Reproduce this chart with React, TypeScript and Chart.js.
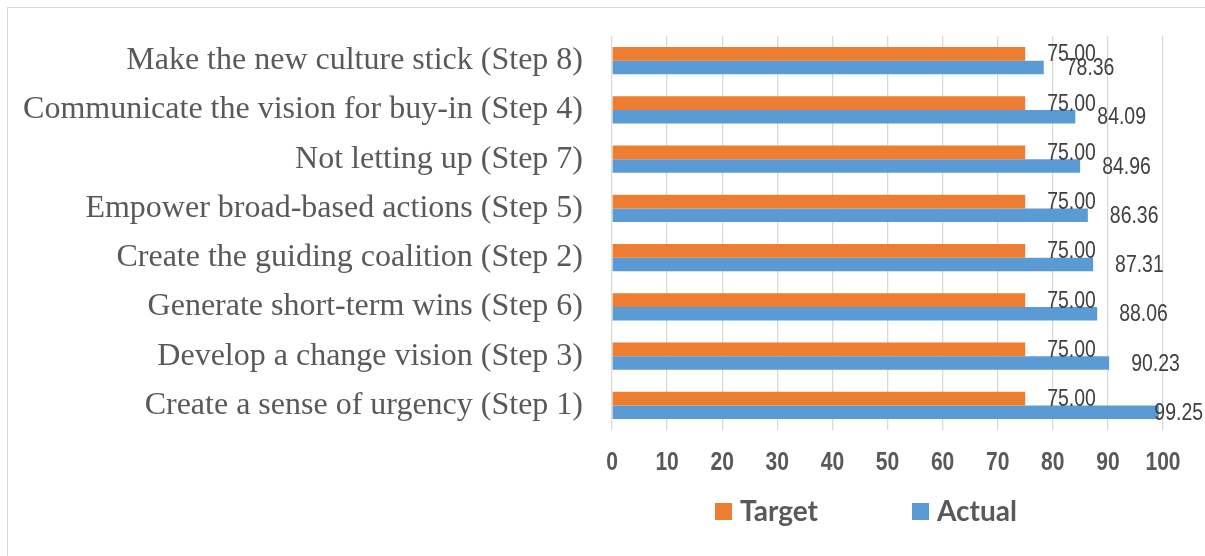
import React, { useEffect, useRef } from "react";
import { Chart, registerables } from "chart.js";

Chart.register(...registerables);

const categories = [
  "Make the new culture stick (Step 8)",
  "Communicate the vision for buy-in (Step 4)",
  "Not letting up (Step 7)",
  "Empower broad-based actions (Step 5)",
  "Create the guiding coalition (Step 2)",
  "Generate short-term wins (Step 6)",
  "Develop a change vision (Step 3)",
  "Create a sense of urgency (Step 1)",
];
const targetValues = [75, 75, 75, 75, 75, 75, 75, 75];
const actualValues = [78.36, 84.09, 84.96, 86.36, 87.31, 88.06, 90.23, 99.25];
const xTicks = [0, 10, 20, 30, 40, 50, 60, 70, 80, 90, 100];

const ORANGE = "#ED7D31";
const BLUE = "#5B9BD5";
const SANS = '"Liberation Sans", Arial, sans-serif';
const CONDENSE = 0.81;

function drawCondensed(ctx: any, txt: string, x: number, y: number, align: "left" | "center") {
  ctx.save();
  ctx.translate(x, y);
  ctx.scale(CONDENSE, 1);
  ctx.textAlign = align;
  ctx.fillText(txt, 0, 0);
  ctx.restore();
}

const labelPlugin = {
  id: "valueLabels",
  afterDatasetsDraw(chart: any) {
    const ctx = chart.ctx;
    ctx.save();
    ctx.font = `24px ${SANS}`;
    ctx.fillStyle = "#404040";
    ctx.textBaseline = "middle";
    chart.data.datasets.forEach((ds: any, di: number) => {
      const meta = chart.getDatasetMeta(di);
      meta.data.forEach((bar: any, i: number) => {
        const txt = Number(ds.data[i]).toFixed(2);
        const w = ctx.measureText(txt).width * CONDENSE;
        const x = Math.min(bar.x + 22, chart.width - w - 2);
        drawCondensed(ctx, txt, x, bar.y + 1, "left");
      });
    });
    ctx.restore();
  },
};

const tickPlugin = {
  id: "condensedTicks",
  afterDraw(chart: any) {
    const ctx = chart.ctx;
    const sx = chart.scales.x;
    ctx.save();
    ctx.font = `bold 26px ${SANS}`;
    ctx.fillStyle = "#595959";
    ctx.textBaseline = "middle";
    sx.ticks.forEach((t: any) => {
      const px = sx.getPixelForValue(t.value);
      drawCondensed(ctx, String(t.value), px, chart.chartArea.bottom + 33, "center");
    });
    ctx.restore();
  },
};

const legendPlugin = {
  id: "customLegend",
  afterDraw(chart: any) {
    const ctx = chart.ctx;
    const area = chart.chartArea;
    ctx.save();
    ctx.font = `bold 28px Lato, "Open Sans", sans-serif`;
    ctx.textBaseline = "middle";
    ctx.textAlign = "left";
    const y = 512;
    let x = area.left + 103;
    chart.data.datasets.forEach((ds: any) => {
      ctx.fillStyle = ds.backgroundColor;
      ctx.fillRect(x, y - 9, 17, 17);
      ctx.fillStyle = "#595959";
      ctx.fillText(ds.label, x + 25, y);
      x += 197;
    });
    ctx.restore();
  },
};

export default function App() {
  const ref = useRef<HTMLCanvasElement>(null);
  useEffect(() => {
    if (!ref.current) return;
    const chart = new Chart(ref.current, {
      type: "bar",
      data: {
        labels: categories,
        datasets: [
          {
            label: "Target",
            data: targetValues,
            backgroundColor: ORANGE,
            categoryPercentage: 0.557,
            barPercentage: 1,
          },
          {
            label: "Actual",
            data: actualValues,
            backgroundColor: BLUE,
            categoryPercentage: 0.557,
            barPercentage: 1,
          },
        ],
      },
      options: {
        indexAxis: "y",
        animation: false,
        responsive: false,
        layout: { padding: { top: 36, right: 42, left: 0, bottom: 0 } },
        plugins: {
          legend: { display: false },
          tooltip: { enabled: false },
        },
        scales: {
          x: {
            min: 0,
            max: 100,
            afterBuildTicks(scale: any) {
              scale.ticks = xTicks.map((v) => ({ value: v }));
            },
            afterFit(scale: any) {
              scale.height = 126;
              scale.paddingLeft = 0;
              scale.paddingRight = 0;
            },
            grid: { color: "#d9d9d9", lineWidth: 1.3, drawTicks: false },
            border: { display: false },
            ticks: { display: false },
          },
          y: {
            afterFit(scale: any) {
              scale.width = 612;
              scale.paddingTop = 0;
              scale.paddingBottom = 0;
            },
            grid: { display: false, drawTicks: false },
            border: { display: false },
            ticks: {
              padding: 29,
              color: "#595959",
              font: { family: '"Liberation Serif", "Times New Roman", serif', size: 32 },
            },
          },
        },
      },
      plugins: [labelPlugin, tickPlugin, legendPlugin],
    });
    return () => chart.destroy();
  }, []);
  return (
    <div
      style={{
        position: "fixed",
        left: 0,
        top: 0,
        width: 1205,
        height: 556,
        overflow: "hidden",
        background: "#fff",
      }}
    >
      <div
        style={{
          position: "absolute",
          left: 7,
          top: 7,
          width: 1220,
          height: 600,
          border: "1px solid #d9d9d9",
        }}
      />
      <canvas
        ref={ref}
        width={1205}
        height={556}
        style={{ position: "absolute", left: 0, top: 0 }}
      />
    </div>
  );
}
